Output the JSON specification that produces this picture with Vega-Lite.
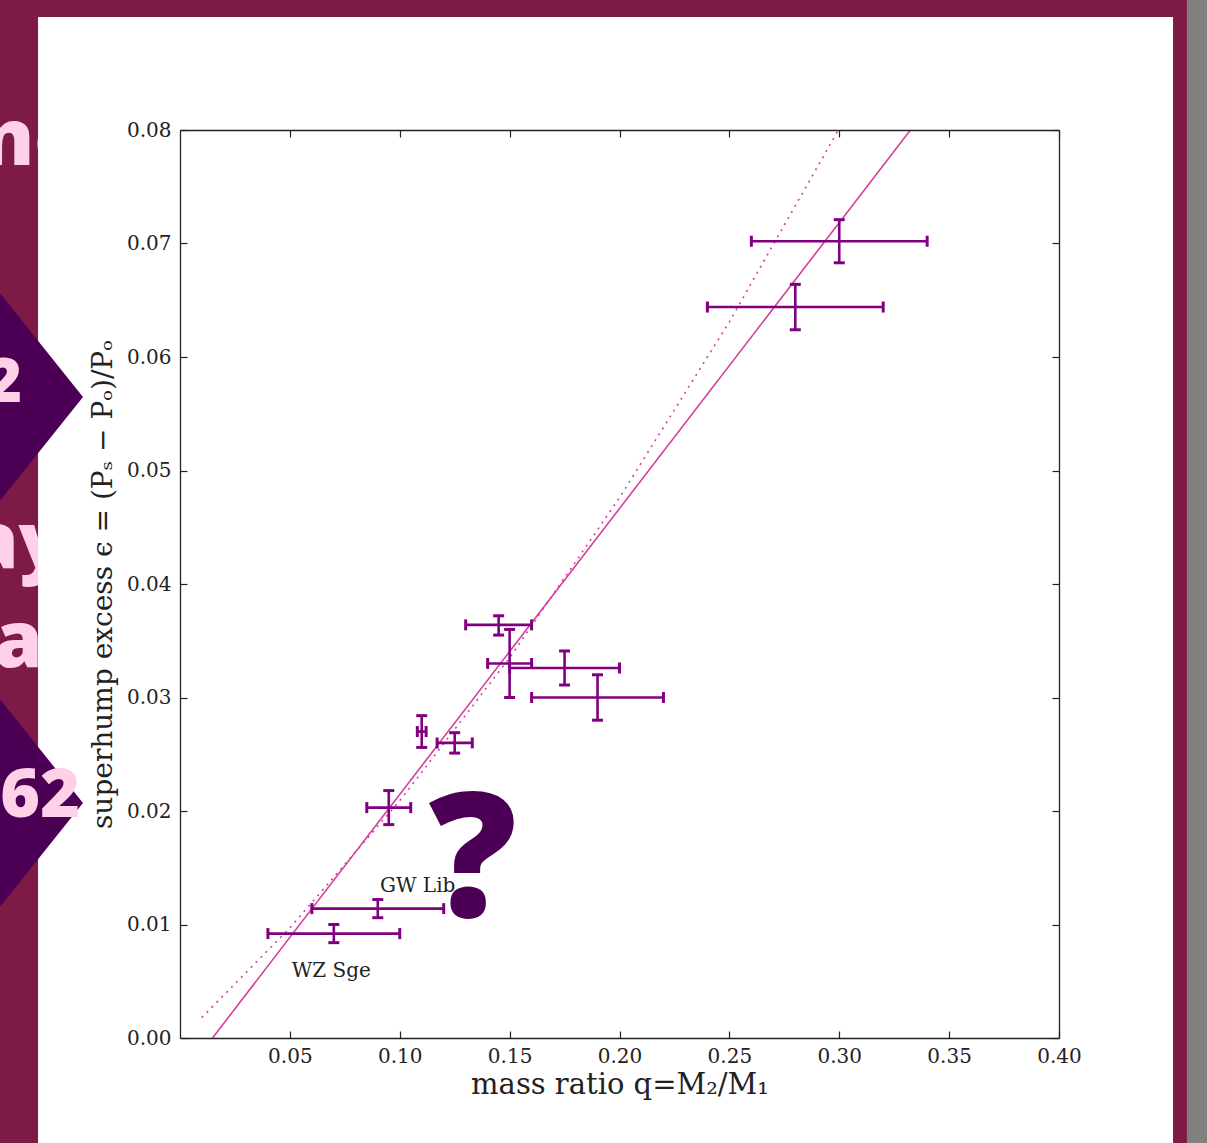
{
  "$schema": "https://vega.github.io/schema/vega-lite/v6.json",
  "width": 879,
  "height": 908,
  "autosize": {"type": "none"},
  "padding": {"left": 180, "top": 130, "right": 148, "bottom": 105},
  "background": "#7e1a46",
  "config": {
    "view": {"stroke": null},
    "axis": {
      "grid": false,
      "domainColor": "#222222",
      "domainWidth": 1.3,
      "tickColor": "#222222",
      "tickWidth": 1.2,
      "tickSize": -7,
      "labelFont": "DejaVu Serif",
      "labelFontSize": 20,
      "labelColor": "#222222",
      "titleFont": "DejaVu Serif",
      "titleFontWeight": "normal",
      "titleColor": "#222222"
    }
  },
  "datasets": {
    "stars": [
      {"q": 0.30, "qlo": 0.26, "qhi": 0.34, "e": 0.0702, "elo": 0.0683, "ehi": 0.0721},
      {"q": 0.28, "qlo": 0.24, "qhi": 0.32, "e": 0.0644, "elo": 0.0624, "ehi": 0.0664},
      {"q": 0.145, "qlo": 0.13, "qhi": 0.16, "e": 0.0364, "elo": 0.0355, "ehi": 0.0372},
      {"q": 0.15, "qlo": 0.14, "qhi": 0.16, "e": 0.033, "elo": 0.030, "ehi": 0.036},
      {"q": 0.175, "qlo": 0.15, "qhi": 0.20, "e": 0.0326, "elo": 0.0311, "ehi": 0.0341},
      {"q": 0.19, "qlo": 0.16, "qhi": 0.22, "e": 0.030, "elo": 0.028, "ehi": 0.032},
      {"q": 0.11, "qlo": 0.108, "qhi": 0.112, "e": 0.027, "elo": 0.0256, "ehi": 0.0284},
      {"q": 0.125, "qlo": 0.117, "qhi": 0.133, "e": 0.026, "elo": 0.0251, "ehi": 0.0269},
      {"q": 0.095, "qlo": 0.085, "qhi": 0.105, "e": 0.0203, "elo": 0.0188, "ehi": 0.0218},
      {"q": 0.09, "qlo": 0.06, "qhi": 0.12, "e": 0.0114, "elo": 0.0106, "ehi": 0.0122},
      {"q": 0.07, "qlo": 0.04, "qhi": 0.10, "e": 0.0092, "elo": 0.0084, "ehi": 0.0100}
    ],
    "knigge": [
      {"q": 0.0148, "e": 0.0},
      {"q": 0.3324, "e": 0.08}
    ],
    "patterson": [
      {"q": 0.0099, "e": 0.0018},
      {"q": 0.05, "e": 0.0097},
      {"q": 0.10, "e": 0.0209},
      {"q": 0.15, "e": 0.0335},
      {"q": 0.20, "e": 0.0476},
      {"q": 0.25, "e": 0.0631},
      {"q": 0.2996, "e": 0.08}
    ],
    "labels": [
      {"q": 0.091, "e": 0.01286, "name": "GW Lib"},
      {"q": 0.0508, "e": 0.00537, "name": "WZ Sge"}
    ],
    "frame": [
      {"q": 0.2, "e": 0.04}
    ]
  },
  "resolve": {"scale": {"x": "independent", "y": "independent"}},
  "layer": [
    {
      "layer": [
        {
          "data": {"name": "knigge"},
          "mark": {"type": "line", "opacity": 0},
          "encoding": {
            "x": {"field": "q", "type": "quantitative",
              "scale": {"domain": [0, 0.4], "nice": false, "zero": false},
              "axis": {"zindex": 1, "title": "mass ratio q=M₂/M₁", "titleFontSize": 29, "titlePadding": 4, "values": [0.05, 0.1, 0.15, 0.2, 0.25, 0.3, 0.35, 0.4], "format": ".2f", "labelPadding": 15, "labelFlush": false}},
            "y": {"field": "e", "type": "quantitative",
              "scale": {"domain": [0, 0.08], "nice": false, "zero": false},
              "axis": {"zindex": 1, "title": "superhump excess ϵ = (Pₛ − Pₒ)/Pₒ", "titleFontSize": 28, "titlePadding": 9, "values": [0, 0.01, 0.02, 0.03, 0.04, 0.05, 0.06, 0.07, 0.08], "format": ".2f", "labelPadding": 16, "labelFlush": false}}
          }
        },
        {
          "data": {"values": [{}]},
          "mark": {"type": "text", "text": "nc", "font": "Open Sans", "fontWeight": 800, "fontSize": 78, "color": "#ffd1e8", "align": "left", "baseline": "alphabetic"},
          "encoding": {
            "x": {"datum": -0.0901, "type": "quantitative"},
            "y": {"datum": 0.07692, "type": "quantitative"}
          }
        },
        {
          "data": {"values": [{}]},
          "mark": {"type": "text", "text": "ay", "font": "Open Sans", "fontWeight": 800, "fontSize": 78, "color": "#ffd1e8", "align": "left", "baseline": "alphabetic"},
          "encoding": {
            "x": {"datum": -0.0956, "type": "quantitative"},
            "y": {"datum": 0.04141, "type": "quantitative"}
          }
        },
        {
          "data": {"values": [{}]},
          "mark": {"type": "text", "text": "a", "font": "Open Sans", "fontWeight": 800, "fontSize": 78, "color": "#ffd1e8", "align": "left", "baseline": "alphabetic"},
          "encoding": {
            "x": {"datum": -0.0846, "type": "quantitative"},
            "y": {"datum": 0.03269, "type": "quantitative"}
          }
        },
        {
          "data": {"values": [{}]},
          "mark": {"type": "rect", "color": "#ffffff", "opacity": 1},
          "encoding": {
            "x": {"datum": -0.0646, "type": "quantitative"},
            "x2": {"datum": 0.4519},
            "y": {"datum": 0.08996, "type": "quantitative"},
            "y2": {"datum": -0.0096}
          }
        },
        {
          "data": {"values": [{}]},
          "mark": {"type": "rect", "color": "#808080", "opacity": 1},
          "encoding": {
            "x": {"datum": 0.4582, "type": "quantitative"},
            "x2": {"datum": 0.47},
            "y": {"datum": 0.0916, "type": "quantitative"},
            "y2": {"datum": -0.0096}
          }
        },
        {
          "data": {"values": [{}]},
          "mark": {"type": "point", "shape": "M-0.8,0L0,-1L0.8,0L0,1Z", "size": 90000, "filled": true, "color": "#4b0055", "opacity": 1, "strokeWidth": 0},
          "encoding": {
            "x": {"datum": -0.09875, "type": "quantitative"},
            "y": {"datum": 0.05648, "type": "quantitative"}
          }
        },
        {
          "data": {"values": [{}]},
          "mark": {"type": "point", "shape": "M-0.8,0L0,-1L0.8,0L0,1Z", "size": 90000, "filled": true, "color": "#4b0055", "opacity": 1, "strokeWidth": 0},
          "encoding": {
            "x": {"datum": -0.09875, "type": "quantitative"},
            "y": {"datum": 0.0207, "type": "quantitative"}
          }
        },
        {
          "data": {"values": [{}]},
          "mark": {"type": "text", "text": "2", "font": "Open Sans", "fontWeight": 800, "fontSize": 62, "color": "#ffd1e8", "align": "right", "baseline": "alphabetic"},
          "encoding": {
            "x": {"datum": -0.0719, "type": "quantitative"},
            "y": {"datum": 0.05604, "type": "quantitative"}
          }
        },
        {
          "data": {"values": [{}]},
          "mark": {"type": "text", "text": "62", "font": "Open Sans", "fontWeight": 800, "fontSize": 68, "color": "#ffd1e8", "align": "right", "baseline": "alphabetic"},
          "encoding": {
            "x": {"datum": -0.0455, "type": "quantitative"},
            "y": {"datum": 0.01947, "type": "quantitative"}
          }
        },
        {
          "data": {"name": "patterson"},
          "mark": {"type": "line", "color": "#d43f9c", "strokeWidth": 1.6, "strokeDash": [2, 5]},
          "encoding": {
            "x": {"field": "q", "type": "quantitative"},
            "y": {"field": "e", "type": "quantitative"}
          }
        },
        {
          "data": {"name": "knigge"},
          "mark": {"type": "line", "color": "#d43f9c", "strokeWidth": 1.6},
          "encoding": {
            "x": {"field": "q", "type": "quantitative"},
            "y": {"field": "e", "type": "quantitative"}
          }
        },
        {
          "data": {"name": "stars"},
          "mark": {"type": "rule", "color": "#800080", "strokeWidth": 2.6},
          "encoding": {
            "x": {"field": "qlo", "type": "quantitative"},
            "x2": {"field": "qhi"},
            "y": {"field": "e", "type": "quantitative"}
          }
        },
        {
          "data": {"name": "stars"},
          "mark": {"type": "rule", "color": "#800080", "strokeWidth": 2.6},
          "encoding": {
            "x": {"field": "q", "type": "quantitative"},
            "y": {"field": "elo", "type": "quantitative"},
            "y2": {"field": "ehi"}
          }
        },
        {
          "data": {"name": "stars"},
          "mark": {"type": "tick", "orient": "vertical", "color": "#800080", "size": 11, "thickness": 3, "opacity": 1},
          "encoding": {
            "x": {"field": "qlo", "type": "quantitative"},
            "y": {"field": "e", "type": "quantitative"}
          }
        },
        {
          "data": {"name": "stars"},
          "mark": {"type": "tick", "orient": "vertical", "color": "#800080", "size": 11, "thickness": 3, "opacity": 1},
          "encoding": {
            "x": {"field": "qhi", "type": "quantitative"},
            "y": {"field": "e", "type": "quantitative"}
          }
        },
        {
          "data": {"name": "stars"},
          "mark": {"type": "tick", "orient": "horizontal", "color": "#800080", "size": 11, "thickness": 3, "opacity": 1},
          "encoding": {
            "x": {"field": "q", "type": "quantitative"},
            "y": {"field": "elo", "type": "quantitative"}
          }
        },
        {
          "data": {"name": "stars"},
          "mark": {"type": "tick", "orient": "horizontal", "color": "#800080", "size": 11, "thickness": 3, "opacity": 1},
          "encoding": {
            "x": {"field": "q", "type": "quantitative"},
            "y": {"field": "ehi", "type": "quantitative"}
          }
        },
        {
          "data": {"name": "labels"},
          "mark": {"type": "text", "font": "DejaVu Serif", "fontSize": 20, "color": "#222222", "align": "left", "baseline": "alphabetic"},
          "encoding": {
            "x": {"field": "q", "type": "quantitative"},
            "y": {"field": "e", "type": "quantitative"},
            "text": {"field": "name"}
          }
        },
        {
          "data": {"values": [{}]},
          "mark": {"type": "text", "text": "?", "font": "Open Sans", "fontWeight": 800, "fontSize": 174, "color": "#4b0055", "align": "center", "baseline": "alphabetic"},
          "encoding": {
            "x": {"datum": 0.1333, "type": "quantitative"},
            "y": {"datum": 0.01066, "type": "quantitative"}
          }
        }
      ]
    },
    {
      "data": {"name": "frame"},
      "mark": {"type": "point", "opacity": 0},
      "encoding": {
        "x": {"field": "q", "type": "quantitative", "scale": {"domain": [0, 0.4], "nice": false, "zero": false},
          "axis": {"zindex": 1, "orient": "top", "labels": false, "title": null, "values": [0.05, 0.1, 0.15, 0.2, 0.25, 0.3, 0.35, 0.4]}},
        "y": {"field": "e", "type": "quantitative", "scale": {"domain": [0, 0.08], "nice": false, "zero": false},
          "axis": {"zindex": 1, "orient": "right", "labels": false, "title": null, "values": [0, 0.01, 0.02, 0.03, 0.04, 0.05, 0.06, 0.07, 0.08]}}
      }
    }
  ]
}
